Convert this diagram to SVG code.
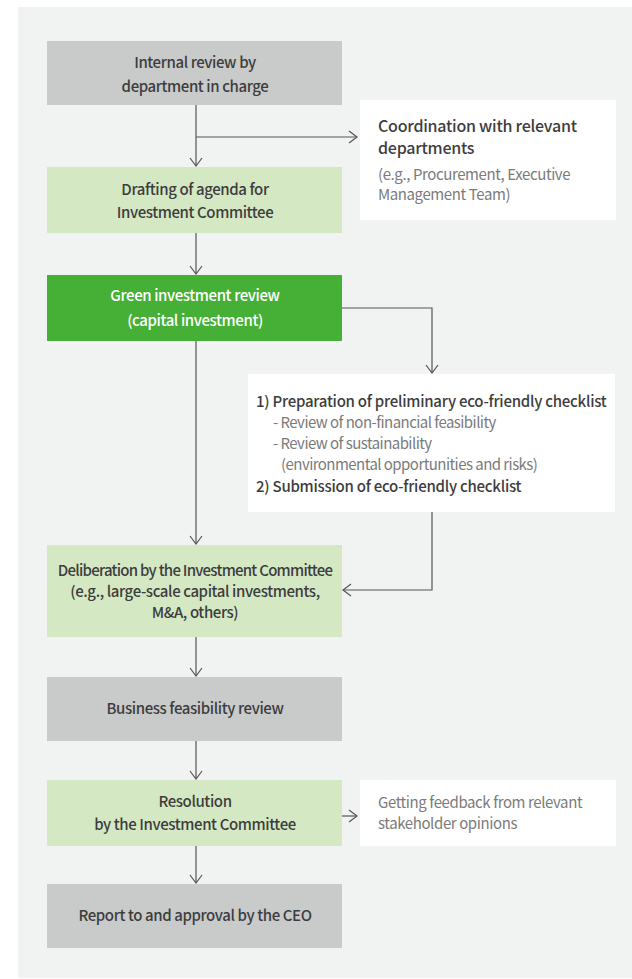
<svg xmlns="http://www.w3.org/2000/svg" width="632" height="979" viewBox="0 0 632 979">
  <style>
    text { font-family: "Noto Sans CJK KR", "Noto Sans", "Liberation Sans", sans-serif; font-size: 15px; letter-spacing: -0.4px; }
    .c { text-anchor: middle; fill: #3d3d3d; font-weight: 500; }
    .w { fill: #ffffff; }
    .h { fill: #3d3d3d; font-weight: 500; letter-spacing: -0.25px; }
    .hl { font-size: 16px; }
    .s { fill: #7b7b7b; font-weight: 400; }
    .t { letter-spacing: -0.55px; }
    .tight { letter-spacing: -0.75px; }
    .gray { fill: #c9caca; }
    .lg { fill: #d5e8c4; }
    .g { fill: #45b035; }
    .wb { fill: #ffffff; }
    .ln { fill: none; stroke: #555555; stroke-width: 1.2; }
  </style>
  <defs>
    <marker id="arr" viewBox="0 0 10 14" refX="9" refY="7" markerWidth="10" markerHeight="14" markerUnits="userSpaceOnUse" orient="auto">
      <path d="M1,1 L9,7 L1,13" fill="none" stroke="#555555" stroke-width="1.2"/>
    </marker>
  </defs>

  <!-- background panel -->
  <rect x="18" y="7" width="614" height="971" fill="#f1f2f2"/>

  <!-- connectors -->
  <g id="connectors">
    <path class="ln" d="M196,105 V166" marker-end="url(#arr)"/>
    <path class="ln" d="M196,137 H357" marker-end="url(#arr)"/>
    <path class="ln" d="M196,233 V274" marker-end="url(#arr)"/>
    <path class="ln" d="M342,308 H432 V373" marker-end="url(#arr)"/>
    <path class="ln" d="M196,341 V544" marker-end="url(#arr)"/>
    <path class="ln" d="M432,511 V590 H343" marker-end="url(#arr)"/>
    <path class="ln" d="M196,637 V676" marker-end="url(#arr)"/>
    <path class="ln" d="M196,741 V779" marker-end="url(#arr)"/>
    <path class="ln" d="M342,816 H357" marker-end="url(#arr)"/>
    <path class="ln" d="M196,846 V883" marker-end="url(#arr)"/>
  </g>

  <g id="internal-review">
    <rect class="gray" x="47" y="41" width="295" height="64"/>
    <text class="c" x="195" y="68">Internal review by</text>
    <text class="c" x="195" y="92">department in charge</text>
  </g>

  <g id="coordination">
    <rect class="wb" x="360" y="100" width="256" height="120"/>
    <text class="h hl" x="378" y="132">Coordination with relevant</text>
    <text class="h hl" x="378" y="154">departments</text>
    <text class="s" x="378" y="180">(e.g., Procurement, Executive</text>
    <text class="s" x="378" y="200">Management Team)</text>
  </g>

  <g id="drafting">
    <rect class="lg" x="47" y="167" width="295" height="66"/>
    <text class="c" x="195" y="195">Drafting of agenda for</text>
    <text class="c" x="195" y="218">Investment Committee</text>
  </g>

  <g id="green-review">
    <rect class="g" x="47" y="275" width="295" height="66"/>
    <text class="c w" x="195" y="301">Green investment review</text>
    <text class="c w" x="195" y="326">(capital investment)</text>
  </g>

  <g id="checklist">
    <rect class="wb" x="248" y="374" width="367" height="138"/>
    <text class="h" x="256" y="407">1) Preparation of preliminary eco-friendly checklist</text>
    <text class="s t" x="273" y="428">- Review of non-financial feasibility</text>
    <text class="s t" x="273" y="449">- Review of sustainability</text>
    <text class="s t" x="281" y="470">(environmental opportunities and risks)</text>
    <text class="h" x="256" y="492">2) Submission of eco-friendly checklist</text>
  </g>

  <g id="deliberation">
    <rect class="lg" x="47" y="545" width="295" height="92"/>
    <text class="c tight" x="195" y="576">Deliberation by the Investment Committee</text>
    <text class="c" x="195" y="597">(e.g., large-scale capital investments,</text>
    <text class="c" x="195" y="618">M&amp;A, others)</text>
  </g>

  <g id="feasibility">
    <rect class="gray" x="47" y="677" width="295" height="64"/>
    <text class="c" x="195" y="714">Business feasibility review</text>
  </g>

  <g id="resolution">
    <rect class="lg" x="47" y="780" width="295" height="66"/>
    <text class="c" x="195" y="807">Resolution</text>
    <text class="c" x="195" y="830">by the Investment Committee</text>
  </g>

  <g id="feedback">
    <rect class="wb" x="360" y="780" width="256" height="66"/>
    <text class="s" x="378" y="808">Getting feedback from relevant</text>
    <text class="s" x="378" y="829">stakeholder opinions</text>
  </g>

  <g id="ceo-approval">
    <rect class="gray" x="47" y="884" width="295" height="64"/>
    <text class="c" x="195" y="921">Report to and approval by the CEO</text>
  </g>
</svg>
